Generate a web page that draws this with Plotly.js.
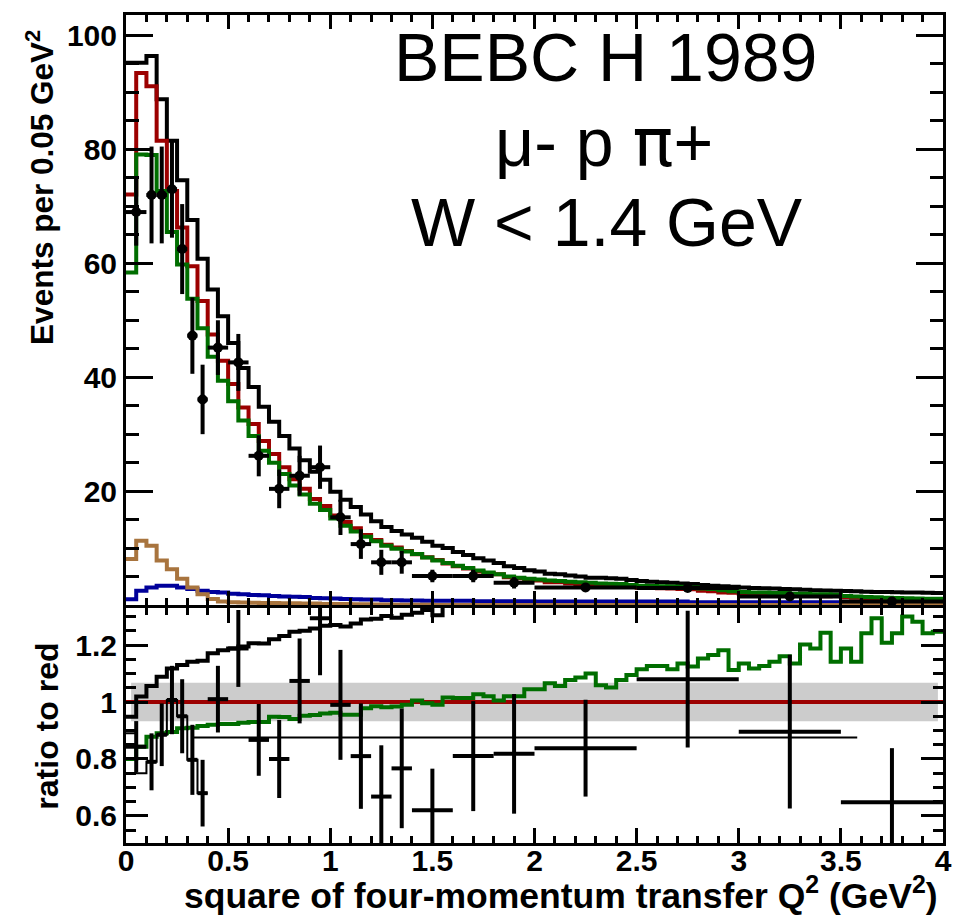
<!DOCTYPE html>
<html>
<head>
<meta charset="utf-8">
<script src="https://cdn.plot.ly/plotly-3.0.1.min.js"></script>
<style>html,body{margin:0;padding:0;background:#fff;}#chart{width:953px;height:923px;}</style>
</head>
<body>
<div id="chart"></div>
<script>
// ---------- data ----------
const binWidth = 0.05;   // GeV^2 per MC bin
const redHist = [72.1,93.4,91.1,81.5,72.7,66.3,59.5,53.4,47.5,42.9,
  38.8,34.7,31.8,28.8,26.5,24.2,22.1,20.4,18.6,17.4,
  15.7,14.6,13.5,12.3,11.4,10.6,10.1,9.5,8.9,8.4,
  7.9,7.3,6.8,6.4,5.9,5.6,5.4,4.9,4.7,4.4,
  4.3,4.0,4.0,3.8,3.7,3.55,3.6,3.55,3.45,3.2,
  3.05,3.0,2.95,2.9,2.8,2.75,2.5,2.4,2.2,2.15,
  2.0,1.95,1.95,1.85,1.8,1.75,1.65,1.6,1.55,1.6,
  1.35,1.3,1.15,1.05,1.1,1.0,0.92,0.9,0.9,0.88];
const greenHist = [58.4,79.1,79.0,72.7,65.5,59.8,53.8,48.6,43.6,39.4,
  35.8,32.4,29.7,27.1,25.0,23.0,21.0,19.4,17.8,16.7,
  15.2,13.9,12.9,12.0,11.2,10.4,9.9,9.4,8.95,8.35,
  7.8,7.4,6.9,6.5,6.05,5.7,5.4,5.0,4.8,4.6,
  4.5,4.3,4.2,4.1,4.0,3.9,3.8,3.75,3.7,3.5,
  3.4,3.35,3.3,3.25,3.2,3.1,2.9,2.8,2.6,2.4,
  2.3,2.2,2.2,2.1,2.1,2.0,2.0,1.9,1.9,1.8,
  1.6,1.5,1.4,1.35,1.3,1.25,1.2,1.15,1.1,1.1];
const blackHist = [95.2,95.2,96.4,88.8,81.5,74.6,67.6,60.8,55.4,50.7,
  46.0,41.6,38.3,34.8,32.2,29.7,27.5,25.4,23.4,22.0,
  19.9,18.5,17.2,15.9,14.7,13.7,13.0,12.4,11.8,11.1,
  10.4,10.0,9.3,8.8,8.2,7.8,7.4,6.8,6.5,6.1,
  5.9,5.5,5.4,5.2,5.0,4.8,4.8,4.7,4.6,4.4,
  4.2,4.1,4.0,3.9,3.8,3.7,3.5,3.4,3.3,3.2,
  3.1,3.0,2.95,2.9,2.8,2.75,2.7,2.6,2.55,2.5,
  2.45,2.4,2.35,2.3,2.3,2.25,2.2,2.2,2.15,2.1];
const brownHist = [8.1,11.3,10.4,7.8,6.3,4.6,3.1,1.9,1.05,0.6,
  0.5,0.45,0.4,0.35,0.35,0.3,0.3,0.25,0.25,0.2,
  0.2,0.2,0.15,0.15,0.1,0.1,0.05,0.05,0.05,0.05,
  0,0,0,0,0,0,0,0,0,0,
  0,0,0,0,0,0,0,0,0,0,
  0,0,0,0,0,0,0,0,0,0,
  0,0,0,0,0,0,0,0,0,0,
  0,0,0,0,0,0,0,0,0,0];
const blueHist = [1.0,2.5,3.1,3.4,3.4,3.1,2.8,2.5,2.3,2.2,
  2.0,1.9,1.75,1.7,1.6,1.5,1.45,1.4,1.25,1.2,
  1.15,1.05,1.0,0.95,0.95,0.85,0.85,0.8,0.8,0.75,
  0.75,0.75,0.75,0.75,0.65,0.65,0.65,0.65,0.65,0.65,
  0.6,0.6,0.6,0.6,0.6,0.6,0.6,0.6,0.6,0.6,
  0.6,0.6,0.6,0.6,0.6,0.5,0.5,0.5,0.5,0.5,
  0.5,0.5,0.5,0.5,0.5,0.5,0.5,0.5,0.5,0.5,
  0.45,0.45,0.45,0.45,0.45,0.45,0.45,0.45,0.45,0.45];
const ratioBlack = [0.948,1.019,1.056,1.089,1.118,1.13,1.141,1.145,1.171,1.182,
  1.188,1.195,1.206,1.205,1.22,1.232,1.247,1.25,1.258,1.268,
  1.27,1.265,1.276,1.29,1.292,1.302,1.296,1.306,1.313,1.323,
  1.305,1.37,1.37,1.38,1.39,1.39,1.4,1.4,1.41,1.42,
  1.43,1.44,1.45,1.46,1.47,1.48,1.5,1.52,1.54,1.56,
  1.58,1.6,1.62,1.64,1.66,1.68,1.7,1.72,1.74,1.76,
  1.78,1.8,1.82,1.84,1.86,1.88,1.9,1.92,1.94,1.96,
  1.98,2.0,2.02,2.04,2.06,2.08,2.1,2.12,2.14,2.16];
const ratioGreen = [0.80,0.843,0.878,0.89,0.895,0.908,0.91,0.916,0.92,0.923,
  0.923,0.927,0.93,0.93,0.948,0.947,0.94,0.952,0.954,0.96,
  0.962,0.955,0.955,0.978,0.985,0.982,0.984,0.99,1.005,0.996,
  0.99,1.016,1.014,1.014,1.027,1.02,1.005,1.02,1.02,1.045,
  1.045,1.066,1.056,1.077,1.086,1.10,1.059,1.051,1.077,1.095,
  1.115,1.126,1.126,1.115,1.135,1.125,1.153,1.165,1.182,1.112,
  1.135,1.118,1.126,1.141,1.161,1.135,1.202,1.188,1.243,1.141,
  1.188,1.141,1.241,1.294,1.208,1.241,1.30,1.282,1.241,1.247];

// data points (BEBC H 1989), variable bins, normalised per 0.05 GeV^2
const dataX    = [0.05,0.125,0.175,0.225,0.275,0.325,0.375,0.45,0.55,0.65,0.75,0.85,0.95,1.05,1.15,1.25,1.35,1.5,1.7,1.9,2.25,2.75,3.25,3.75];
const dataXerr = [0.05,0.025,0.025,0.025,0.025,0.025,0.025,0.05,0.05,0.05,0.05,0.05,0.05,0.05,0.05,0.05,0.05,0.1,0.1,0.1,0.25,0.25,0.25,0.25];
const dataY    = [69,72,72,73,62.5,47.3,36.1,45.2,42.6,26.2,20.4,22.7,24.2,15.4,10.7,7.5,7.5,5.1,5.1,3.9,3.1,3.0,1.5,0.6];
const dataYerr = [5.9,8.5,8.5,8.5,7.9,6.7,6.1,4.8,5.0,3.6,3.4,3.5,3.8,3.1,2.6,2.2,2.0,1.1,1.1,1.0,0.55,0.55,0.4,0.25];
const dataRatio    = [0.843,0.79,0.885,1.007,0.95,0.797,0.68,1.01,1.188,0.867,0.80,1.074,1.294,0.99,0.81,0.668,0.767,0.62,0.81,0.818,0.838,1.08,0.896,0.648];
const dataRatioErr = [0.09,0.10,0.11,0.12,0.13,0.123,0.117,0.117,0.135,0.126,0.137,0.149,0.2,0.193,0.185,0.18,0.21,0.146,0.193,0.21,0.17,0.24,0.27,0.19];

// thin data-ratio histogram at low Q^2 and the flat normalisation line
const thinEdges = [0,0.05,0.1,0.15,0.2,0.25,0.3,0.35,0.4];
const thinVals  = [0.89,0.75,0.79,0.885,1.007,0.95,0.797,0.68];
const normLineX = [0.33,3.58];
const normLineY = [0.875,0.875];

// systematic band around the reference (red)
const bandX = [0.025,3.975];
const bandLow = [0.932,0.932];
const bandHigh = [1.068,1.068];
const refLineX = [0,4];
const refLineY = [1,1];

// ---------- helpers ----------
function stepTrace(vals, color, width, xa, ya) {
  const xs = [], ys = [];
  for (let i = 0; i < vals.length; i++) { xs.push(i * binWidth); ys.push(vals[i]); }
  xs.push(vals.length * binWidth); ys.push(vals[vals.length - 1]);
  return {x: xs, y: ys, type: 'scatter', mode: 'lines', line: {shape: 'hv', color: color, width: width},
          xaxis: xa, yaxis: ya, hoverinfo: 'skip', showlegend: false};
}
const C_RED = '#9c0000', C_GREEN = '#006e00', C_BROWN = '#a8743e', C_BLUE = '#00009a';

const traces = [];
// top panel
traces.push(stepTrace(blueHist, C_BLUE, 4, 'x', 'y'));
traces.push(stepTrace(brownHist, C_BROWN, 4, 'x', 'y'));
traces.push(stepTrace(blackHist, '#000', 4, 'x', 'y'));
traces.push(stepTrace(redHist, C_RED, 4, 'x', 'y'));
traces.push(stepTrace(greenHist, C_GREEN, 4, 'x', 'y'));
traces.push({x: dataX, y: dataY, type: 'scatter', mode: 'markers', xaxis: 'x', yaxis: 'y',
  marker: {color: '#000', size: 10},
  error_x: {type: 'data', array: dataXerr, color: '#000', thickness: 4, width: 0},
  error_y: {type: 'data', array: dataYerr, color: '#000', thickness: 4, width: 0},
  showlegend: false, hoverinfo: 'skip'});

// bottom panel
traces.push({x: bandX, y: bandLow, type: 'scatter', mode: 'lines', line: {width: 0, color: '#cccccc'},
  xaxis: 'x2', yaxis: 'y2', showlegend: false, hoverinfo: 'skip'});
traces.push({x: bandX, y: bandHigh, type: 'scatter', mode: 'lines', line: {width: 0, color: '#cccccc'},
  fill: 'tonexty', fillcolor: '#cccccc', xaxis: 'x2', yaxis: 'y2', showlegend: false, hoverinfo: 'skip'});
traces.push({x: refLineX, y: refLineY, type: 'scatter', mode: 'lines', line: {width: 4, color: C_RED},
  xaxis: 'x2', yaxis: 'y2', showlegend: false, hoverinfo: 'skip'});
traces.push(stepTrace(ratioGreen, C_GREEN, 4, 'x2', 'y2'));
traces.push(stepTrace(ratioBlack, '#000', 4, 'x2', 'y2'));
(function(){
  const xs = thinEdges.slice(0, thinVals.length), ys = thinVals.slice();
  xs.push(thinEdges[thinEdges.length - 1]); ys.push(thinVals[thinVals.length - 1]);
  traces.push({x: xs, y: ys, type: 'scatter', mode: 'lines', line: {shape: 'hv', width: 2, color: '#000'},
    xaxis: 'x2', yaxis: 'y2', showlegend: false, hoverinfo: 'skip'});
})();
traces.push({x: normLineX, y: normLineY, type: 'scatter', mode: 'lines', line: {width: 2, color: '#000'},
  xaxis: 'x2', yaxis: 'y2', showlegend: false, hoverinfo: 'skip'});
traces.push({x: dataX, y: dataRatio, type: 'scatter', mode: 'markers', xaxis: 'x2', yaxis: 'y2',
  marker: {color: '#000', size: 1},
  error_x: {type: 'data', array: dataXerr, color: '#000', thickness: 4, width: 0},
  error_y: {type: 'data', array: dataRatioErr, color: '#000', thickness: 4, width: 0},
  showlegend: false, hoverinfo: 'skip'});

const FONT = 'Liberation Sans, Arial, Helvetica, sans-serif';
const tickFont = {family: FONT, size: 30, color: '#000', weight: 'bold'};
const axCommon = {showline: true, linecolor: '#000', linewidth: 3, mirror: 'ticks', ticks: 'inside',
  tickcolor: '#000', tickwidth: 3, showgrid: false, zeroline: false, fixedrange: true};

const layout = {
  width: 953, height: 923,
  margin: {l: 126, r: 10, t: 15, b: 80},
  paper_bgcolor: '#fff', plot_bgcolor: '#fff',
  showlegend: false,
  xaxis: Object.assign({}, axCommon, {domain: [0, 1], anchor: 'y', range: [0, 4], tick0: 0, dtick: 0.5,
    ticklen: 14, showticklabels: false,
    minor: {dtick: 0.1, ticklen: 7, tickwidth: 3, ticks: 'inside', tickcolor: '#000', showgrid: false}}),
  yaxis: Object.assign({}, axCommon, {domain: [0.2874, 1], anchor: 'x', range: [0, 103.6],
    tickvals: [20, 40, 60, 80, 100], ticktext: ['20', '40', '60', '80', '100'], ticklen: 27, tickfont: tickFont,
    minor: {dtick: 5, ticklen: 13, tickwidth: 3, ticks: 'inside', tickcolor: '#000', showgrid: false}}),
  xaxis2: Object.assign({}, axCommon, {domain: [0, 1], anchor: 'y2', range: [0, 4], tick0: 0, dtick: 0.5,
    ticklen: 15, tickfont: tickFont, ticklabelstandoff: -11,
    minor: {dtick: 0.1, ticklen: 7, tickwidth: 3, ticks: 'inside', tickcolor: '#000', showgrid: false}}),
  yaxis2: Object.assign({}, axCommon, {domain: [0, 0.2838], anchor: 'x2', range: [0.505, 1.33],
    tickvals: [0.6, 0.8, 1, 1.2], ticktext: ['0.6', '0.8', '1', '1.2'], ticklen: 22, tickfont: tickFont,
    minor: {dtick: 0.05, ticklen: 10, tickwidth: 3, ticks: 'inside', tickcolor: '#000', showgrid: false}}),
  annotations: [
    {text: 'BEBC H 1989', xref: 'paper', yref: 'paper', x: 0.5875, y: 0.949, showarrow: false,
     xanchor: 'center', yanchor: 'middle', font: {family: FONT, size: 68, color: '#000'}},
    {text: 'μ- p <span style="font-family:DejaVu Sans">π</span>+', xref: 'paper', yref: 'paper', x: 0.585, y: 0.8466, showarrow: false,
     xanchor: 'center', yanchor: 'middle', font: {family: FONT, size: 68, color: '#000'}},
    {text: 'W < 1.4 GeV', xref: 'paper', yref: 'paper', x: 0.5885, y: 0.75, showarrow: false,
     xanchor: 'center', yanchor: 'middle', font: {family: FONT, size: 68, color: '#000'}},
    {text: 'Events per 0.05 GeV<sup>2</sup>', xref: 'paper', yref: 'paper', x: -0.1053, y: 0.985,
     showarrow: false, textangle: -90, xanchor: 'center', yanchor: 'top',
     font: {family: FONT, size: 31.5, color: '#000', weight: 'bold'}},
    {text: 'ratio to red', xref: 'paper', yref: 'paper', x: -0.0967, y: 0.245,
     showarrow: false, textangle: -90, xanchor: 'center', yanchor: 'top',
     font: {family: FONT, size: 32, color: '#000', weight: 'bold'}},
    {text: 'square of four-momentum transfer Q<sup>2</sup> (GeV<sup>2</sup>)', xref: 'paper', yref: 'paper',
     x: 0.9963, y: -0.0604, showarrow: false, xanchor: 'right', yanchor: 'middle',
     font: {family: FONT, size: 35.5, color: '#000', weight: 'bold'}}
  ]
};

Plotly.newPlot('chart', traces, layout, {staticPlot: true, displayModeBar: false});
</script>
</body>
</html>
